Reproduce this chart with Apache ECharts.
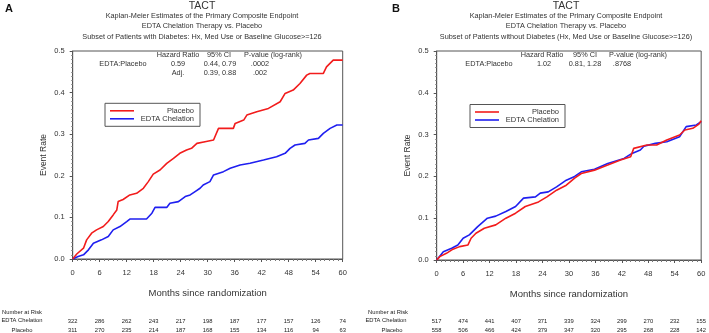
<!DOCTYPE html>
<html>
<head>
<meta charset="utf-8">
<script src="https://cdn.jsdelivr.net/npm/echarts@6/dist/echarts.min.js"></script>
<style>
  html, body { margin: 0; padding: 0; background: #fff; }
  #main { width: 709px; height: 333px; }
</style>
</head>
<body>
<div id="main"></div>
<script>
// [month, event rate]
var placeboA = [[0,0],[0.9,0.012],[2.4,0.026],[3.1,0.046],[4.2,0.062],[5.3,0.07],[6.8,0.078],[7.9,0.09],
  [9.0,0.106],[9.8,0.118],[10.1,0.138],[11.2,0.143],[12.7,0.154],[14.2,0.158],[15.7,0.17],[16.8,0.186],
  [17.9,0.204],[19.4,0.214],[20.9,0.23],[22.4,0.242],[23.8,0.254],[25.3,0.262],[26.4,0.266],[27.6,0.278],
  [29.4,0.282],[31.3,0.286],[32.4,0.314],[35.7,0.314],[36.1,0.326],[38.0,0.334],[38.7,0.346],[40.9,0.354],[43.5,0.362],
  [46.1,0.378],[47.2,0.398],[49.0,0.406],[50.5,0.422],[52.0,0.442],[52.7,0.446],[55.7,0.446],[56.4,0.462],[57.9,0.478],[60,0.478]];
var edtaA = [[0,0],[1.2,0.006],[2.4,0.01],[3.5,0.022],[4.6,0.038],[6.4,0.046],[7.9,0.054],[9.0,0.07],
  [10.5,0.078],[12.0,0.09],[12.7,0.096],[16.4,0.096],[17.6,0.11],[18.3,0.124],[20.9,0.124],[21.6,0.134],[23.5,0.138],[25.0,0.15],
  [26.1,0.154],[27.2,0.162],[28.3,0.17],[29.0,0.178],[30.5,0.186],[31.3,0.202],[33.5,0.21],[35.0,0.218],
  [37.2,0.226],[39.4,0.23],[42.4,0.238],[45.3,0.246],[47.2,0.254],[48.3,0.266],[49.4,0.274],[51.6,0.278],
  [52.4,0.286],[54.6,0.29],[55.7,0.302],[57.2,0.314],[58.7,0.322],[60,0.322]];
var placeboB = [[0,0],[0.7,0.008],[2.2,0.016],[3.7,0.026],[5.2,0.032],[7.1,0.036],[7.8,0.052],[8.9,0.064],
  [10.8,0.076],[13.4,0.084],[15.7,0.1],[17.9,0.112],[20.1,0.128],[23.1,0.139],[25.0,0.151],[27.2,0.167],
  [29.4,0.179],[29.8,0.183],[31.3,0.196],[32.8,0.207],[35.8,0.215],[38.8,0.227],[41.7,0.239],[44.0,0.247],
  [44.7,0.267],[47.7,0.275],[49.9,0.275],[52.2,0.287],[55.1,0.299],[56.3,0.311],[58.1,0.315],[59.5,0.325],[60,0.333]];
var edtaB = [[0,0],[0.6,0.008],[1.5,0.02],[3.4,0.028],[4.8,0.036],[6.0,0.052],[7.4,0.06],[9.3,0.08],
  [11.5,0.1],[13.4,0.105],[15.7,0.116],[17.9,0.128],[19.7,0.148],[22.4,0.151],[23.5,0.16],[25.3,0.163],
  [27.2,0.175],[29.4,0.191],[31.3,0.2],[32.8,0.211],[35.8,0.217],[38.8,0.231],[42.5,0.243],[44.3,0.255],
  [46.2,0.263],[47.0,0.272],[49.6,0.279],[52.2,0.283],[55.1,0.295],[56.6,0.319],[58.9,0.323],[60,0.331]];

// number at risk, one value per 6-month tick
var riskEdtaA = [322, 286, 262, 243, 217, 198, 187, 177, 157, 126, 74];
var riskPlaceboA = [311, 270, 235, 214, 187, 168, 155, 134, 116, 94, 63];
var riskEdtaB = [517, 474, 441, 407, 371, 339, 324, 299, 270, 232, 155];
var riskPlaceboB = [558, 506, 466, 424, 379, 347, 320, 295, 268, 228, 142];

var subtitleA = ['Kaplan-Meier Estimates of the Primary Composite Endpoint', 'EDTA Chelation Therapy vs. Placebo',
  'Subset of Patients with Diabetes: Hx, Med Use or Baseline Glucose>=126'];
var subtitleB = ['Kaplan-Meier Estimates of the Primary Composite Endpoint', 'EDTA Chelation Therapy vs. Placebo',
  'Subset of Patients without Diabetes (Hx, Med Use or Baseline Glucose>=126)'];
var hrHeader = ['Hazard Ratio', '95% CI', 'P-value (log-rank)'];
var hrRowsA = [['EDTA:Placebo', '0.59', '0.44, 0.79', '.0002'], ['', 'Adj.', '0.39, 0.88', '.002']];
var hrRowsB = [['EDTA:Placebo', '1.02', '0.81, 1.28', '.8768']];

var RED = '#f21c1c', BLUE = '#1f1ff0', INK = '#333';
var FONT = 'Liberation Sans, Arial, sans-serif';

var chart = echarts.init(document.getElementById('main'), null, {renderer: 'canvas'});

function txt(x, y, s, size, align, extra) {
  var st = {text: s, x: x, y: y, fill: INK, font: (size || 7.5) + 'px ' + FONT,
    textAlign: align || 'center', textVerticalAlign: 'middle'};
  if (extra) for (var k in extra) st[k] = extra[k];
  return {type: 'text', silent: true, style: st};
}

var graphics = [];
function panelText(cx, letterX, subs, hdrX, rows, rowX) {
  graphics.push(txt(letterX, 9, cx < 300 ? 'A' : 'B', 11, 'left', {font: 'bold 11px ' + FONT, fill: '#111'}));
  graphics.push(txt(cx, 6, 'TACT', 10.5));
  subs.forEach(function (s, i) { graphics.push(txt(cx, 15.7 + i * 10.5, s, 7.3)); });
  hrHeader.forEach(function (s, i) { graphics.push(txt(hdrX[i], 55, s, 7.3)); });
  rows.forEach(function (r, j) {
    r.forEach(function (s, i) { if (s) graphics.push(txt(rowX[i], 64 + j * 8.7, s, 7.3)); });
  });
}
panelText(202, 5, subtitleA, [178, 219, 273], hrRowsA, [123, 178, 220, 260]);
panelText(566, 392, subtitleB, [542, 585, 638], hrRowsB, [489, 544, 585, 622]);
[[22, 'Number at Risk', 312.5], [22, 'EDTA Chelation', 320.7], [22, 'Placebo', 330],
 [388, 'Number at Risk', 312.5], [386, 'EDTA Chelation', 320.7], [392, 'Placebo', 330]].forEach(function (r) {
  graphics.push(txt(r[0], r[2], r[1], 5.8, 'center', {fill: '#222'}));
});

var grids = [
  {left: 72.7, top: 51, width: 270, height: 208},
  {left: 436.7, top: 51, width: 268.3, height: 209}
].map(function (g) {
  g.show = true; g.borderColor = '#555'; g.borderWidth = 1;
  return g;
});

function mainX(gi) {
  return {
    type: 'value', gridIndex: gi, min: 0, max: 60, interval: 6,
    name: 'Months since randomization', nameLocation: 'middle', nameGap: 29,
    nameTextStyle: {fontFamily: FONT, fontSize: 9.5, color: INK},
    axisLine: {lineStyle: {color: '#555', width: 1}},
    axisTick: {length: 3, lineStyle: {color: '#555'}},
    minorTick: {show: true, splitNumber: 6, length: 2, lineStyle: {color: '#777'}},
    axisLabel: {fontFamily: FONT, fontSize: 7.5, color: INK, margin: 10},
    splitLine: {show: false}
  };
}
function riskX(gi, arr, offset) {
  return {
    type: 'value', gridIndex: gi, min: 0, max: 60, interval: 6, position: 'bottom', offset: offset,
    axisLine: {show: false}, axisTick: {show: false}, splitLine: {show: false},
    axisLabel: {fontFamily: FONT, fontSize: 5.8, color: '#222', margin: 0,
      showMinLabel: true, showMaxLabel: true,
      formatter: function (v) { return String(arr[Math.round(v / 6)]); }}
  };
}
function mainY(gi) {
  return {
    type: 'value', gridIndex: gi, min: 0, max: 0.5, interval: 0.1,
    name: 'Event Rate', nameLocation: 'middle', nameGap: 25,
    nameTextStyle: {fontFamily: FONT, fontSize: 8.5, color: INK},
    axisLine: {show: true, lineStyle: {color: '#555', width: 1}},
    axisTick: {show: true, length: 3, lineStyle: {color: '#555'}},
    minorTick: {show: true, splitNumber: 10, length: 1.5, lineStyle: {color: '#888'}},
    axisLabel: {fontFamily: FONT, fontSize: 7.5, color: INK, margin: 8,
      formatter: function (v) { return v.toFixed(1); }},
    splitLine: {show: false}
  };
}

function km(name, gi, data, color) {
  return {
    name: name, type: 'line', xAxisIndex: gi, yAxisIndex: gi, data: data,
    symbol: 'none', color: color,
    lineStyle: {color: color, width: 1.6}, animation: false
  };
}

function legend(left, top) {
  return {
    data: ['Placebo', 'EDTA Chelation'], orient: 'vertical', left: left, top: top,
    icon: 'rect', itemWidth: 24, itemHeight: 1.6, itemGap: 0,
    padding: [3.5, 6, 3.5, 5], borderColor: '#555', borderWidth: 1,
    formatter: function (n) { return '{r|' + n + '}'; },
    textStyle: {fontFamily: FONT, fontSize: 7.5, color: INK,
      rich: {r: {width: 55, align: 'right', height: 8.5, fontSize: 7.5, fontFamily: FONT, color: INK}}},
    selectedMode: false
  };
}

chart.setOption({
  backgroundColor: '#fff',
  animation: false,
  grid: grids,
  legend: [legend(105, 103.3), legend(470, 104.5)],
  xAxis: [mainX(0), mainX(1),
    riskX(0, riskEdtaA, 59), riskX(0, riskPlaceboA, 68),
    riskX(1, riskEdtaB, 58), riskX(1, riskPlaceboB, 67)],
  yAxis: [mainY(0), mainY(1)],
  series: [
    km('EDTA Chelation', 0, edtaA, BLUE),
    km('Placebo', 0, placeboA, RED),
    km('EDTA Chelation', 1, edtaB, BLUE),
    km('Placebo', 1, placeboB, RED)
  ],
  graphic: graphics
});
</script>
</body>
</html>
